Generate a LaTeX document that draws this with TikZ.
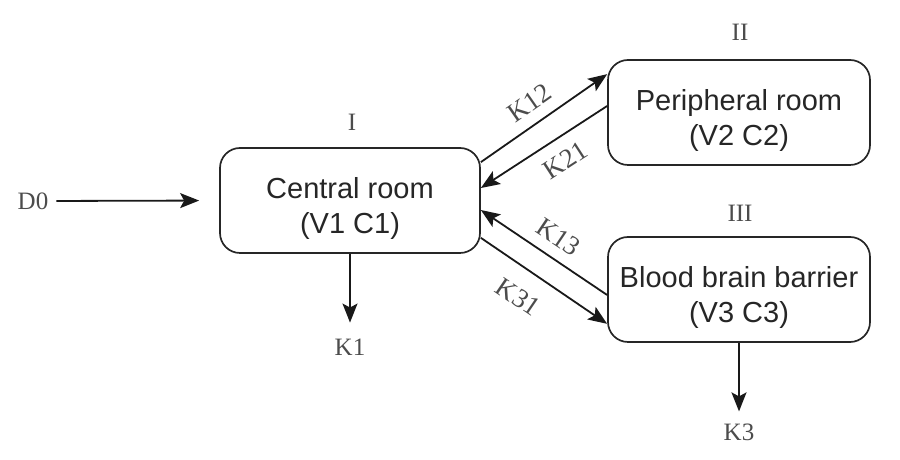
\documentclass[tikz,border=0pt]{standalone}
\usepackage{fontspec}
\setmainfont{Liberation Serif}
\newfontfamily\boxfont{Liberation Sans}
\usetikzlibrary{arrows.meta}
\newcommand{\topstrut}{\rule{0pt}{37pt}}
\begin{document}
\begin{tikzpicture}[x=1pt,y=1pt,
  room/.style={draw=black!85, line width=1.7pt, rounded corners=20pt,
    minimum width=260pt, minimum height=105pt, align=center, inner sep=0pt,
    font=\boxfont\fontsize{29}{35}\selectfont, text=black!85},
  lab/.style={inner sep=0pt, font=\fontsize{25}{25}\selectfont, text=black!70},
  arr/.style={line width=1.8pt, draw=black!90,
    -{Stealth[length=19pt,width=15pt,inset=4pt]}},
  klab/.style={lab, sloped, font=\fontsize{27}{27}\selectfont}]
\useasboundingbox (0,0) rectangle (900,460);
% boxes
\node[room] (c) at (350,259.5) {\topstrut Central room\\(V1 C1)};
\node[room, minimum width=262pt] (p) at (739,347.5) {\topstrut Peripheral room\\(V2 C2)};
\node[room, minimum width=262pt] (b) at (739,170.5) {\topstrut Blood brain barrier\\(V3 C3)};
% roman labels
\node[lab] (l1) at (352,338) {I};
\node[lab] (l2) at (740,428) {II};
\node[lab] (l3) at (740,247) {III};
% outer labels
\node[lab] (d0) at (33,259) {D0};
\node[lab] (k1) at (350,113) {K1};
\node[lab] (k3) at (739,28) {K3};
% arrows
\draw[arr, shorten <=8pt, shorten >=20pt] (d0.east) -- (c.west);
\draw[arr, shorten >=16pt] (c.south) -- (k1.north);
\draw[arr, shorten >=12pt] (b.south) -- (k3.north);
\draw[arr] ([yshift=-15pt]c.north east) -- ([yshift=-15pt]p.north west)
  node[klab, pos=0.48, above=11pt] {K12};
\draw[arr] ([yshift=6.5pt]p.west) -- ([yshift=12.5pt]c.east)
  node[klab, pos=0.43, below=13pt] {K21};
\draw[arr] ([yshift=-5.5pt]b.west) -- ([yshift=-9.5pt]c.east)
  node[klab, pos=0.48, above=11pt] {K13};
\draw[arr] ([yshift=16pt]c.south east) -- ([yshift=19pt]b.south west)
  node[klab, pos=0.42, below=18pt] {K31};
\end{tikzpicture}
\end{document}
